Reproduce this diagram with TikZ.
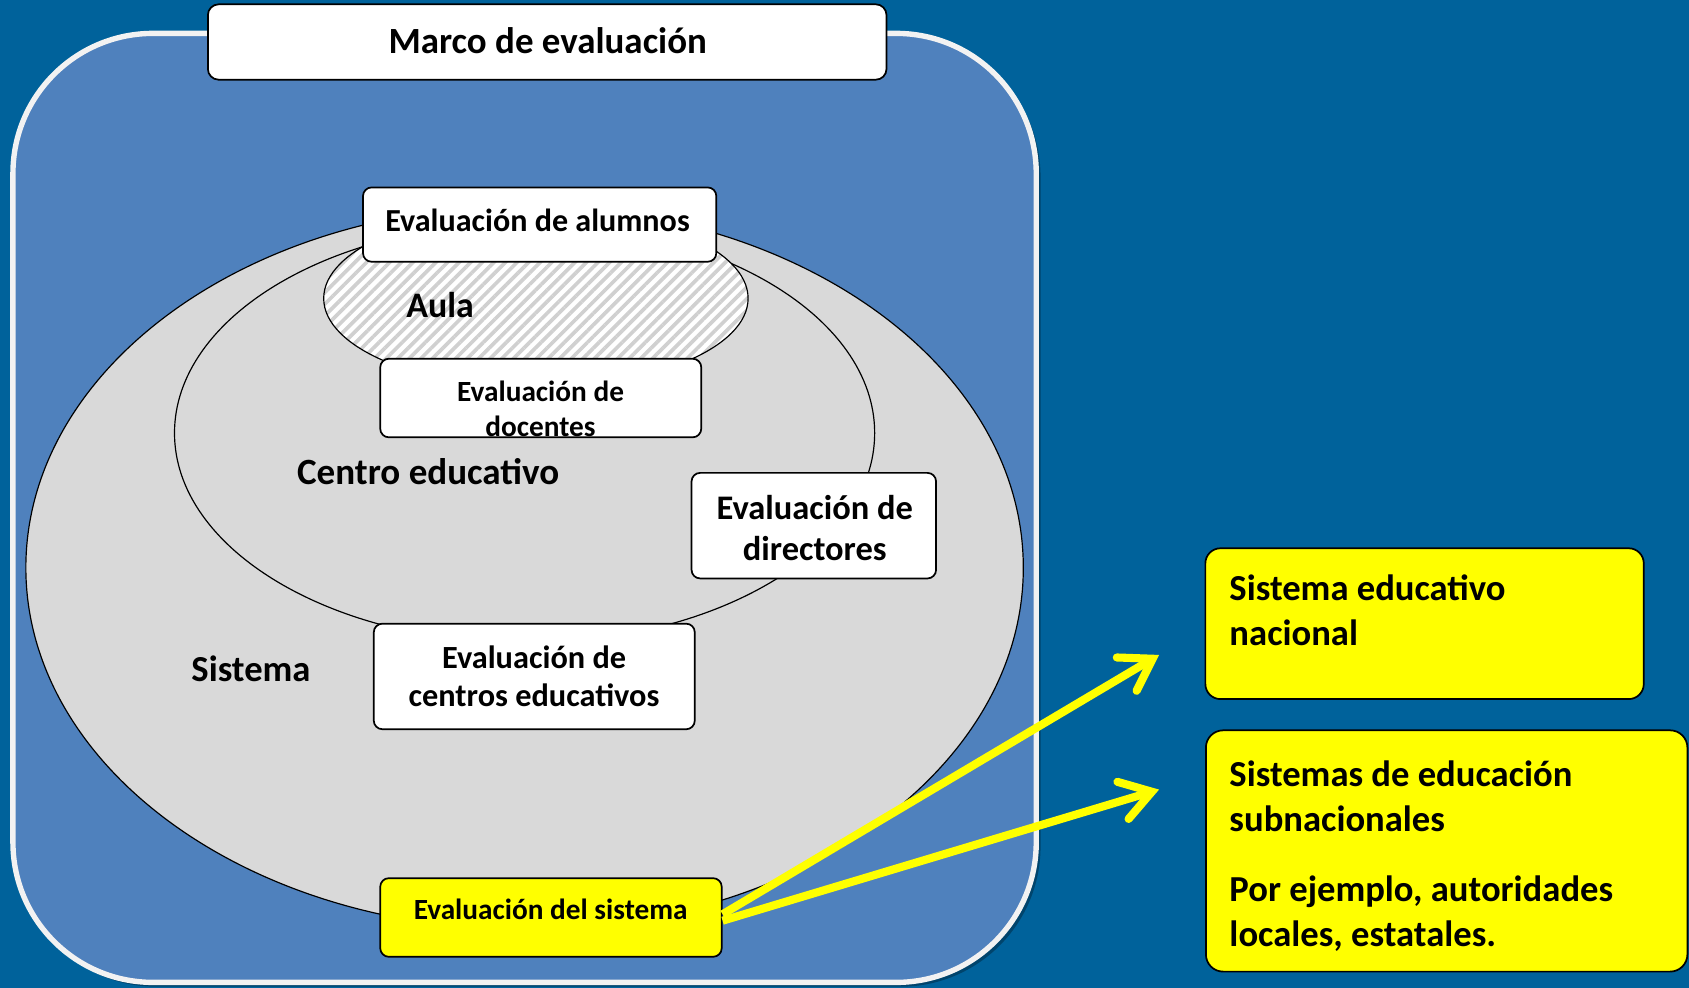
\documentclass[tikz,border=0pt]{standalone}
\usepackage{fontspec}
\setmainfont{Carlito}
\usetikzlibrary{shapes.geometric,arrows.meta,patterns.meta}
\definecolor{bgblue}{RGB}{0,98,155}
\definecolor{panelblue}{RGB}{79,129,189}
\definecolor{ellgray}{RGB}{217,217,217}
\definecolor{hatchgray}{RGB}{208,208,208}
\definecolor{rimwhite}{RGB}{242,242,242}
\definecolor{hiyellow}{RGB}{255,255,0}
\begin{document}
\begin{tikzpicture}[x=1pt,y=-1pt,
  box/.style={draw=black, line width=1.6pt, rounded corners=8pt, fill=white, inner sep=0pt},
  ybox/.style={box, fill=hiyellow},
  ell/.style={ellipse, draw=black, line width=1.1pt, fill=ellgray, inner sep=0pt},
  lbl/.style={anchor=base, align=center, inner sep=0pt},
  lblw/.style={anchor=base west, align=left, inner sep=0pt},
  arr/.style={draw=hiyellow, line width=7.5pt, -{Straight Barb[length=28pt,width=36pt,line cap=round,line join=miter]}},
]
\useasboundingbox (0,0) rectangle (1568,917);
\fill[bgblue] (0,0) rectangle (1568,917);

% panel with shadow
\fill[black, opacity=0.3, rounded corners=130pt] (15,34) rectangle (966,916);
\node[draw=rimwhite, line width=5pt, fill=panelblue, rounded corners=130pt,
      minimum width=950pt, minimum height=881pt, inner sep=0pt] (panel) at (487,471.5) {};

% ellipses
\node[ell, minimum width=926pt, minimum height=672pt] (sistemaell) at (487,527) {};
\node[ell, minimum width=650pt, minimum height=390pt] (centroell) at (487,402) {};
\node[ell, minimum width=394pt, minimum height=166pt, preaction={fill=white},
      pattern={Lines[angle=45,distance=7.6pt,line width=3.4pt]}, pattern color=hatchgray] (aulaell) at (497.5,277) {};

% boxes
\node[box, rounded corners=10pt, minimum width=630pt, minimum height=70pt] (title) at (508,39) {};
\node[box, minimum width=328pt, minimum height=69pt] (alum) at (501,208.5) {};
\node[box, minimum width=298pt, minimum height=73pt] (doc) at (502,369.5) {};
\node[box, minimum width=227pt, minimum height=98pt] (dir) at (755.5,488) {};
\node[box, minimum width=298pt, minimum height=98pt] (cen) at (496,628) {};
\node[ybox, minimum width=317pt, minimum height=73pt] (sys) at (511.5,851.75) {};
\node[ybox, rounded corners=14pt, minimum width=407pt, minimum height=140pt] (nac) at (1322.5,579) {};
\node[ybox, rounded corners=16pt, minimum width=447pt, minimum height=224pt] (sub) at (1343,790) {};

% texts (base anchor = baseline of the last line)
\node[lbl, font=\fontsize{34.3}{40}\selectfont\bfseries] (titletxt) at (508.5,49.5) {Marco de evaluación};
\node[lbl, font=\fontsize{29.8}{35}\selectfont\bfseries] (alumtxt) at (499,215) {Evaluación de alumnos};
\node[lbl, font=\fontsize{33.3}{40}\selectfont\bfseries] (aulatxt) at (408.5,294.6) {Aula};
\node[lbl, font=\fontsize{27.2}{32.5}\selectfont\bfseries] (doctxt) at (501.8,404.8) {Evaluación de\\docentes};
\node[lbl, font=\fontsize{34.4}{40}\selectfont\bfseries] (centrotxt) at (397.5,450.2) {Centro educativo};
\node[lbl, font=\fontsize{32}{38.7}\selectfont\bfseries] (dirtxt) at (756.4,520.8) {Evaluación de\\directores};
\node[lbl, font=\fontsize{34}{40}\selectfont\bfseries] (sistematxt) at (233,632.8) {Sistema};
\node[lbl, font=\fontsize{30}{35.5}\selectfont\bfseries] (centxt) at (495.8,656) {Evaluación de\\centros educativos};
\node[lbl, font=\fontsize{27.2}{32}\selectfont\bfseries] (systxt) at (511.2,853.5) {Evaluación del sistema};
\node[lblw, font=\fontsize{34}{42}\selectfont\bfseries] (nactxt) at (1141.2,599.7) {Sistema educativo\\nacional};
\node[lblw, font=\fontsize{34}{42}\selectfont\bfseries] (subtxt) at (1141.2,878.8) {Sistemas de educación\\subnacionales\\[23pt]Por ejemplo, autoridades\\locales, estatales.};

% arrows
\coordinate (t1) at (1076,608);
\coordinate (t2) at (1076,733);
\draw[arr] ([yshift=3pt]sys.east) -- (t1);
\draw[arr] ([yshift=-3pt]sys.east) -- (t2);
\end{tikzpicture}
\end{document}
